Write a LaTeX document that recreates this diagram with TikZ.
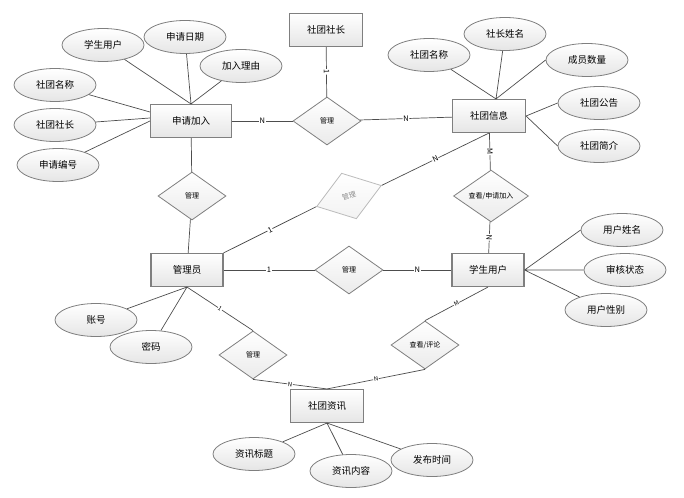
\documentclass[tikz,border=0pt]{standalone}
\usepackage{fontspec}
\setmainfont{Noto Sans CJK SC}
\usetikzlibrary{shapes.geometric, calc}
\definecolor{lineGray}{HTML}{4D4D4D}
\definecolor{edgeGray}{HTML}{7F7F7F}
\definecolor{fadeGray}{HTML}{BBBBBB}

\begin{document}
\begin{tikzpicture}[x=1pt, y=-1pt,
    entity/.style={rectangle, draw=edgeGray, line width=1.1pt, top color=white, bottom color=black!10,
                   minimum width=#1, minimum height=33pt, inner sep=0pt,
                   font=\fontsize{9.5}{10}\selectfont},
    entity/.default=73pt,
    attr/.style={ellipse, draw=edgeGray, line width=0.8pt, top color=white, bottom color=black!10,
                 minimum width=82pt, minimum height=33pt, inner sep=0pt,
                 font=\fontsize{9.5}{10}\selectfont},
    rel/.style={diamond, draw=edgeGray, line width=0.8pt, top color=white, bottom color=black!8,
                minimum width=#1, minimum height=48pt, inner sep=0pt,
                font=\fontsize{7}{8}\selectfont},
    rel/.default=68pt,
    link/.style={draw=lineGray, line width=0.7pt},
    lbl/.style={fill=white, inner sep=0.6pt, sloped, font=\fontsize{7.5}{8}\selectfont},
    slbl/.style={lbl, font=\fontsize{6}{6}\selectfont},
  ]
    \useasboundingbox (0,0) rectangle (684,497);

    \node[entity] (chief) at (326,30) {社团社长};
    \node[entity=81pt] (apply) at (191,121) {申请加入};
    \node[entity] (info) at (489,116) {社团信息};
    \node[entity=72pt] (admin) at (187,270) {管理员};
    \node[entity=72pt] (stu) at (488,270) {学生用户};
    \node[entity] (news) at (327,406) {社团资讯};

    \node[rel] (r1) at (327,121) {管理};
    \node[rel] (r2) at (192,196) {管理};
    \node[rel, rotate=18, draw=fadeGray, text=black!45, bottom color=black!5] (r3) at (349,196) {管理};
    \node[rel=75pt] (r4) at (491,196) {查看/申请加入};
    \node[rel] (r5) at (349,270) {管理};
    \node[rel] (r6) at (253,355) {管理};
    \node[rel] (r7) at (425,345) {查看/评论};

    \node[attr] (ap1) at (103,45) {学生用户};
    \node[attr] (ap2) at (185,37) {申请日期};
    \node[attr] (ap3) at (241,66) {加入理由};
    \node[attr] (ap4) at (55,85) {社团名称};
    \node[attr] (ap5) at (55,125) {社团社长};
    \node[attr] (ap6) at (58,165) {申请编号};
    \node[attr] (in1) at (429,55) {社团名称};
    \node[attr] (in2) at (505,34) {社长姓名};
    \node[attr] (in3) at (587,60) {成员数量};
    \node[attr] (in4) at (599,103) {社团公告};
    \node[attr] (in5) at (599,146) {社团简介};
    \node[attr] (st1) at (622,230) {用户姓名};
    \node[attr] (st2) at (625,270) {审核状态};
    \node[attr] (st3) at (606,310) {用户性别};
    \node[attr] (ad1) at (96,320) {账号};
    \node[attr] (ad2) at (151,347) {密码};
    \node[attr] (nw1) at (254,454) {资讯标题};
    \node[attr] (nw2) at (351,471) {资讯内容};
    \node[attr] (nw3) at (432,460) {发布时间};

    \draw[link] (ap1) -- (apply.north) (ap2) -- (apply.north) (ap3) -- (apply.north);
    \draw[link] (ap4) -- ($(apply.west)+(0,-9)$) (ap5) -- ($(apply.west)+(0,-3)$) (ap6) -- (apply.west);
    \draw[link] (in1) -- ($(info.north)+(7,0)$) (in2) -- ($(info.north)+(7,0)$)
                (in3.west) -- ($(info.north)+(7,0)$);
    \draw[link] (in4.west) -- (info.east) (in5.west) -- (info.east);
    \draw[link] (st1.west) -- (stu.east) (st2) -- (stu.east) (st3) -- (stu.east);
    \draw[link] (ad1) -- (admin.south) (ad2) -- (admin.south);
    \draw[link] (nw1) -- (news.south) (nw2) -- (news.south) (nw3) -- (news.south);

    \draw[link] (chief) -- node[lbl] {1} (r1);
    \draw[link] (apply) -- node[lbl] {N} (r1);
    \draw[link] (r1) -- node[lbl] {N} (info);
    \draw[link] (apply) -- (r2);
    \draw[link] (r2) -- (admin);
    \draw[link] (admin.north east) -- node[lbl] {1} (r3.west);
    \draw[link] (r3.east) -- node[lbl] {N} (info.south);
    \draw[link] (info) -- node[lbl] {M} (r4);
    \draw[link] (r4) -- node[lbl] {N} (stu);
    \draw[link] (admin) -- node[lbl] {1} (r5);
    \draw[link] (r5) -- node[lbl] {N} (stu);
    \draw[link] (admin.south) -- node[slbl] {1} (r6.north);
    \draw[link] (r6.south) -- node[slbl] {N} (news.north);
    \draw[link] (stu.south) -- node[slbl] {M} (r7.north);
    \draw[link] (r7.south) -- node[slbl] {N} (news.north);
\end{tikzpicture}
\end{document}
